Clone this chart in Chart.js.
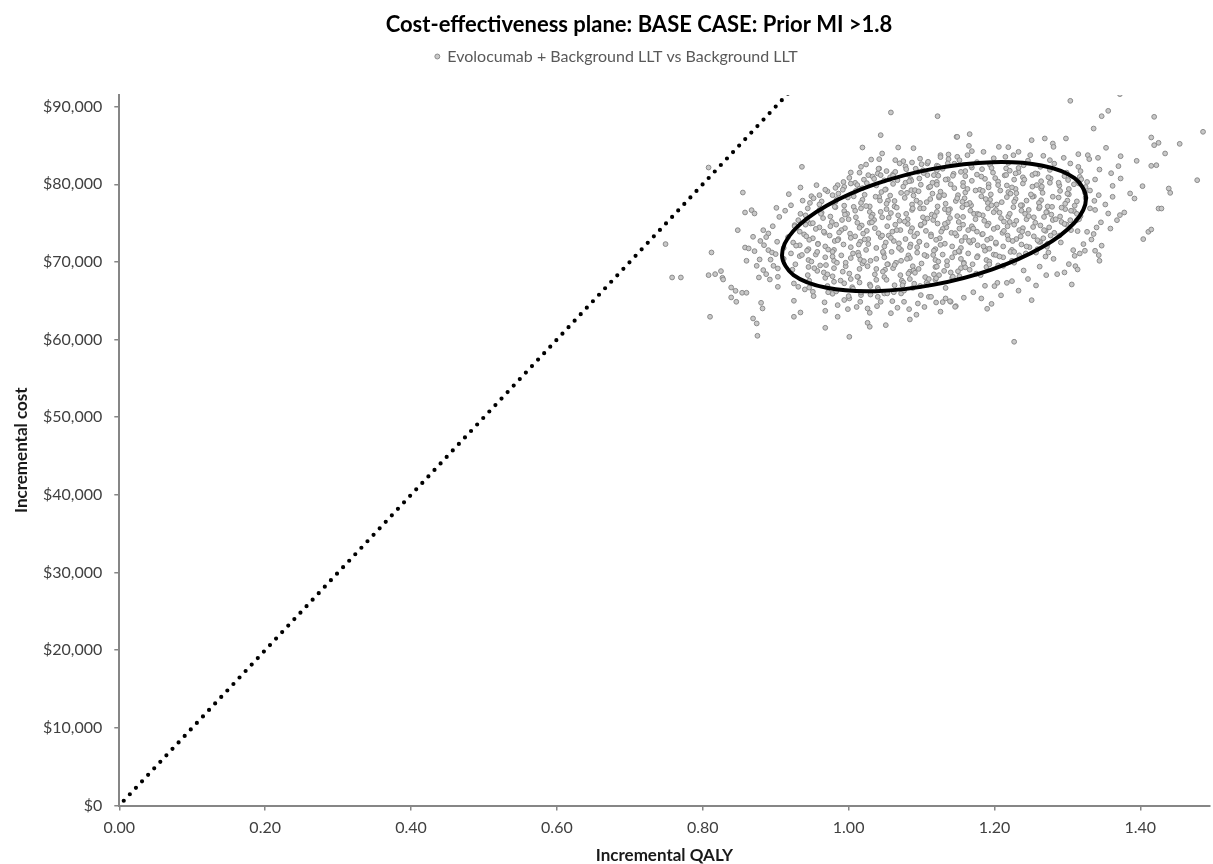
<!DOCTYPE html>
<html><head><meta charset="utf-8">
<script src="https://cdn.jsdelivr.net/npm/chart.js@4.4.1/dist/chart.umd.min.js"></script>
<style>html,body{margin:0;padding:0;background:#fff;overflow:hidden}</style>
</head><body>
<canvas id="c" width="1213" height="864"></canvas>
<script>
const chartTitle = 'Cost-effectiveness plane: BASE CASE: Prior MI >1.8';
const seriesName = 'Evolocumab + Background LLT vs Background LLT';
const xAxisTitle = 'Incremental QALY';
const yAxisTitle = 'Incremental cost';
const xTickValues = [0, 0.2, 0.4, 0.6, 0.8, 1.0, 1.2, 1.4];
const yTickValues = [0, 10000, 20000, 30000, 40000, 50000, 60000, 70000, 80000, 90000];

// willingness-to-pay line ($100,000 per QALY)
const wtpLine = [[0, 0], [0.92, 92000]];

// confidence ellipse outline
const ellipseOutline = [
  [1.3256,78216],[1.3098,80791],[1.2645,82426],[1.1970,82851],[1.1172,82014],[1.0373,80044],
  [0.9698,77237],[0.9245,74018],[0.9087,70877],[0.9245,68302],[0.9698,66667],[1.0373,66242],
  [1.1172,67079],[1.1970,69049],[1.2645,71856],[1.3098,75074]
];

// PSA iterations: outlying points
const psaOuter = [
  [1.058,89250],[1.122,88770],[1.044,86330],[1.148,86110],[1.019,84740],[1.068,84740],[1.089,84650],[1.046,83970],[0.808,82160],[0.936,82250],
  [1.031,83190],[1.042,83240],[1.064,83110],[1.075,82980],[1.087,82810],[1.100,82590],[1.108,82680],[1.126,83750],[1.137,83840],[1.137,83240],
  [1.017,82250],[1.024,82550],[1.042,82030],[1.003,81520],[1.027,81180],[1.040,81390],[1.044,81180],[1.056,80660],[1.067,80530],[1.085,80660],
  [1.095,81610],[1.108,81180],[1.117,81180],[1.001,80830],[1.009,80190],[0.985,79890],[0.994,79670],[0.982,79540],[0.956,79890],[0.949,78470],
  [0.960,78600],[0.934,79590],[0.918,78730],[0.855,78940],[0.901,76970],[0.858,76370],[0.867,76670],[0.871,76240],[0.848,74090],[0.883,74090],
  [0.890,73670],[0.869,73240],[0.926,74740],[0.931,75380],
  [1.304,90750],[1.372,91610],[1.356,89460],[1.347,88770],[1.419,88690],[1.336,87180],[1.486,86760],[1.149,86110],[1.166,86460],[1.251,85680],
  [1.269,85900],[1.280,85250],[1.281,84820],[1.298,85900],[1.415,86030],[1.419,85040],[1.425,85340],[1.454,85210],[1.434,83970],[1.353,84700],
  [1.165,84950],[1.169,84270],[1.206,84820],[1.219,84780],[1.185,84180],[1.163,83750],[1.149,83540],[1.215,83540],[1.226,83750],[1.233,84180],
  [1.249,83750],[1.267,83670],[1.276,83110],[1.295,83410],[1.304,82680],[1.315,83880],[1.315,82250],[1.328,83750],[1.330,83240],[1.342,83410],
  [1.373,83620],[1.370,82340],[1.395,83020],[1.415,82380],[1.422,82460],[1.360,81430],[1.373,80750],[1.338,80620],[1.317,80960],[1.403,79760],
  [1.439,79460],[1.441,78900],[1.478,80530],[1.386,78820],[1.392,78170],[1.362,78390],[1.337,77870],[1.343,78600],[1.425,76880],[1.429,76880],
  [1.356,76240],[1.368,75380],[1.372,76030],[1.378,76370],[1.327,73880],[1.340,74440],[1.333,72890],[1.404,72940],[1.411,73880],[1.415,74180],
  [1.314,73970],[1.313,75380],[1.304,75380],
  [1.308,71520],[1.310,70790],[1.317,71090],[1.324,71440],[1.338,71440],[1.343,70880],[1.344,70150],[1.302,69720],[1.311,69460],[1.314,69030],
  [1.296,68650],[1.286,68430],[1.271,68300],[1.306,67100],[1.257,66970],[1.251,65080],[1.224,67530],[1.217,67310],[1.204,67310],[1.200,66890],
  [1.187,66930],[1.190,63970],[1.227,59720],[1.147,64310],[1.140,64870],[1.274,71220],[1.291,72510],[1.263,72590],[1.272,71950],
  [0.812,71220],[0.858,71860],[0.863,71740],[0.871,71390],[0.884,72160],[0.890,71520],[0.895,71220],[0.900,71010],[0.860,70150],[0.874,69500],
  [0.878,70320],[0.808,68300],[0.817,68430],[0.825,68820],[0.827,67960],[0.828,67740],[0.883,68950],[0.887,68430],[0.892,67740],[0.877,68000],
  [0.903,69160],[0.903,68090],[0.903,66800],[0.839,66710],[0.845,66280],[0.839,65430],[0.846,64870],[0.854,66030],[0.860,66030],[0.880,64740],
  [0.882,64010],[0.810,62940],[0.869,62720],[0.874,62080],[0.875,60490],[0.925,65000],[0.925,62940],[0.934,63490],[0.940,66460],[0.951,66160],
  [0.968,63710],[0.968,61520],[0.985,64440],[0.985,62940],[0.999,63920],[1.001,60360],[1.001,65300],[1.016,64870],[1.026,64010],[1.029,63450],
  [1.026,62160],[1.029,61650],[1.039,64310],[1.051,61860],[1.040,65510],[1.044,64870],[1.060,64950],[1.076,64870],[1.083,63920],[1.084,62590],
  [1.095,64650],[1.110,65510],[1.120,64780],[1.129,64830],[1.133,65300],[1.139,64950],[1.146,64220],[1.099,65730],[1.113,65510],[1.017,65730],
  [1.049,65940],[1.072,65940],[0.925,67230],[0.931,66800],
  [0.749,72300],[0.758,68000],[0.770,68000]
];

// PSA iterations: band just around the ellipse
const psaBand = [
  [0.921,77300],[0.937,77900],[0.944,76900],[0.952,78200],[0.963,77800],[0.971,79100],[0.978,78600],[0.992,79300],[1.003,80100],[1.012,79900],
  [1.021,80600],[1.033,81000],[1.052,81700],[1.061,81300],[1.078,82300],[1.092,82000],[1.109,82900],[1.121,82400],[1.136,82700],
  [1.331,79200],[1.338,76700],[1.346,75100],[1.327,80300],[1.352,77400],[1.336,73600],[1.359,74300],[1.322,72300],[1.347,72100],[1.362,79800],
  [1.318,81700],[1.344,81900],
  [0.952,65600],[0.967,64800],[0.978,65900],[0.994,65100],[1.011,64200],[1.058,63400],[1.067,64100],[1.093,63200],[1.104,64200],[1.126,63600],
  [1.158,65400],[1.171,66100],[1.182,65300],[1.196,64600],[1.209,65700],[1.233,66300],[1.246,67800],[1.262,69400],[1.281,70400],[1.240,68900],
  [0.887,73200],[0.896,74600],[0.902,72600],[0.893,70300],[0.905,75800],[0.913,76600],[0.897,69500],[0.879,72700]
];

// PSA iterations: dense central cloud
const psaInner = [
  [1.152,83100],[1.176,82850],[1.199,83350],[1.219,82750],[1.246,83050],
  [1.123,82300],[1.145,82650],[1.169,82150],[1.194,82500],[1.216,82050],[1.240,82450],[1.263,82250],[1.282,82650],
  [1.064,81600],[1.079,81950],[1.103,81450],[1.121,81800],[1.144,81350],[1.160,81700],[1.183,81950],[1.198,81500],[1.221,81750],[1.233,81550],[1.259,81350],[1.276,81850],[1.299,81500],
  [1.057,80900],[1.082,81250],[1.097,80750],[1.123,81100],[1.136,80650],[1.160,81050],[1.176,81250],[1.201,80800],[1.214,81150],[1.239,80900],[1.252,81200],[1.277,80750],[1.296,81050],[1.319,80650],
  [1.025,80150],[1.049,80500],[1.061,80050],[1.086,80450],[1.099,79950],[1.121,80300],[1.133,80600],[1.157,80200],[1.169,80450],[1.192,80000],[1.205,80350],[1.227,80600],[1.239,80100],[1.264,80400],[1.276,80200],[1.301,80550],[1.316,80100],
  [1.015,79450],[1.038,79850],[1.051,79350],[1.075,79700],[1.086,79250],[1.110,79600],[1.121,79950],[1.145,79500],[1.157,79750],[1.180,79300],[1.192,79600],[1.217,79850],[1.229,79400],[1.252,79700],[1.264,79450],[1.289,79850],[1.302,79400],[1.325,79650],
  [0.986,78800],[1.010,79150],[1.022,78650],[1.045,79000],[1.057,78550],[1.080,78900],[1.091,79250],[1.115,78800],[1.126,79050],[1.150,78600],[1.160,78950],[1.184,79150],[1.195,78700],[1.219,79000],[1.230,78850],[1.254,78450],[1.266,78900],[1.290,79150],[1.302,78700],[1.324,78950],
  [0.984,78100],[1.007,78450],[1.019,78000],[1.042,78350],[1.054,77900],[1.077,78250],[1.089,78550],[1.112,78100],[1.124,78300],[1.147,77850],[1.159,78200],[1.182,78450],[1.194,78000],[1.217,78350],[1.229,78100],[1.252,78400],[1.264,77950],[1.288,78300],[1.300,77900],[1.325,78250],
  [0.960,77400],[0.982,77750],[0.994,77250],[1.017,77600],[1.029,77150],[1.052,77500],[1.063,77850],[1.087,77400],[1.098,77600],[1.122,77150],[1.133,77500],[1.156,77750],[1.168,77300],[1.191,77600],[1.203,77400],[1.227,77750],[1.238,77300],[1.261,77600],[1.273,77150],[1.297,77500],[1.310,77250],
  [0.960,76700],[0.982,77050],[0.994,76550],[1.017,76900],[1.029,76450],[1.052,76800],[1.063,77150],[1.087,76700],[1.098,76900],[1.121,76450],[1.132,76800],[1.156,77050],[1.167,76600],[1.191,76900],[1.202,76700],[1.226,77050],[1.237,76600],[1.261,76900],[1.272,76450],[1.297,76800],[1.309,76550],[1.331,76900],
  [0.941,76000],[0.963,76350],[0.975,75850],[0.998,76200],[1.010,75750],[1.033,76100],[1.044,76450],[1.068,76000],[1.079,76200],[1.102,75750],[1.114,76100],[1.137,76350],[1.149,75900],[1.172,76200],[1.184,76000],[1.207,76350],[1.219,75850],[1.242,76200],[1.254,75750],[1.278,76100],[1.290,75850],[1.313,76200],
  [0.943,75300],[0.965,75650],[0.977,75150],[1.000,75500],[1.012,75050],[1.035,75400],[1.046,75750],[1.070,75300],[1.081,75500],[1.104,75050],[1.116,75400],[1.139,75650],[1.151,75150],[1.174,75500],[1.186,75300],[1.209,75650],[1.221,75150],[1.244,75500],[1.256,75050],[1.280,75400],[1.292,75150],[1.316,75500],
  [0.926,74600],[0.948,74950],[0.960,74450],[0.983,74800],[0.995,74350],[1.018,74700],[1.029,75050],[1.053,74600],[1.064,74800],[1.087,74350],[1.099,74700],[1.122,74950],[1.134,74450],[1.157,74800],[1.169,74600],[1.192,74950],[1.204,74450],[1.227,74800],[1.239,74350],[1.263,74700],[1.275,74450],[1.299,74800],
  [0.933,73900],[0.955,74250],[0.967,73750],[0.990,74100],[1.002,73650],[1.025,74000],[1.036,74350],[1.060,73900],[1.071,74100],[1.094,73650],[1.106,74000],[1.129,74250],[1.141,73750],[1.164,74100],[1.176,73900],[1.199,74250],[1.211,73750],[1.234,74100],[1.246,73650],[1.270,74000],[1.282,73750],[1.305,74100],
  [0.917,73200],[0.939,73550],[0.951,73050],[0.974,73400],[0.986,72950],[1.009,73300],[1.020,73650],[1.044,73200],[1.055,73400],[1.078,72950],[1.090,73300],[1.113,73550],[1.125,73050],[1.148,73400],[1.160,73200],[1.183,73550],[1.195,73050],[1.218,73400],[1.230,72950],[1.254,73300],[1.267,73050],[1.289,73400],
  [0.924,72500],[0.946,72850],[0.958,72350],[0.981,72700],[0.993,72250],[1.016,72600],[1.027,72950],[1.051,72500],[1.062,72700],[1.085,72250],[1.097,72600],[1.120,72850],[1.132,72350],[1.155,72700],[1.167,72500],[1.190,72850],[1.202,72350],[1.225,72700],[1.237,72250],[1.261,72600],[1.273,72350],
  [0.911,71800],[0.933,72150],[0.945,71650],[0.968,72000],[0.980,71550],[1.003,71900],[1.014,72250],[1.038,71800],[1.049,72000],[1.072,71550],[1.084,71900],[1.107,72150],[1.119,71650],[1.142,72000],[1.154,71800],[1.177,72150],[1.189,71650],[1.212,72000],[1.224,71550],[1.248,71900],[1.259,71650],
  [0.921,71100],[0.943,71450],[0.955,70950],[0.978,71300],[0.990,70850],[1.013,71200],[1.024,71550],[1.048,71100],[1.059,71300],[1.082,70850],[1.094,71200],[1.117,71450],[1.129,70950],[1.152,71300],[1.164,71100],[1.187,71450],[1.199,70950],[1.222,71300],[1.234,70850],[1.257,71200],
  [0.911,70400],[0.933,70750],[0.945,70250],[0.968,70600],[0.980,70150],[1.003,70500],[1.014,70850],[1.038,70400],[1.049,70600],[1.072,70150],[1.084,70500],[1.107,70750],[1.119,70250],[1.142,70600],[1.154,70400],[1.177,70750],[1.189,70250],[1.212,70600],[1.224,70150],
  [0.927,69700],[0.949,70050],[0.961,69550],[0.984,69900],[0.996,69450],[1.019,69800],[1.030,70150],[1.054,69700],[1.065,69900],[1.088,69450],[1.100,69800],[1.123,70050],[1.135,69550],[1.158,69900],[1.170,69700],[1.193,70050],[1.205,69550],[1.227,69900],
  [0.923,69000],[0.945,69350],[0.957,68850],[0.980,69200],[0.992,68750],[1.015,69100],[1.026,69450],[1.050,69000],[1.061,69200],[1.084,68750],[1.096,69100],[1.119,69350],[1.131,68850],[1.154,69200],[1.166,69000],[1.189,69350],
  [0.944,68300],[0.966,68650],[0.978,68150],[1.001,68500],[1.013,68050],[1.036,68400],[1.047,68750],[1.071,68300],[1.082,68500],[1.105,68050],[1.117,68400],[1.140,68650],[1.152,68150],[1.175,68500],
  [0.946,67600],[0.968,67950],[0.980,67450],[1.003,67800],[1.015,67350],[1.038,67700],[1.049,68050],[1.073,67600],[1.084,67800],[1.107,67350],[1.119,67700],[1.142,67950],
  [0.971,66900],[0.994,67250],[1.005,66750],[1.029,67100],[1.040,66650],[1.063,67000],[1.075,67350],[1.098,66900],[1.109,67100],[1.133,66650],
  [0.983,66200],[1.006,66550],[1.017,66050],[1.041,66400],[1.053,65950],[1.076,66300],[1.088,66650],
  [1.007,77100],[1.031,75800],[1.046,73400],[1.058,76300],[1.069,71800],[1.081,74900],[1.093,77900],[1.097,72600],[1.108,75600],[1.116,70900],
  [1.127,73900],[1.131,78600],[1.139,76800],[1.146,71200],[1.152,74300],[1.163,79400],[1.171,72800],[1.177,76200],[1.184,73600],[1.196,77300],
  [1.202,70900],[1.213,75200],[1.222,78800],[1.236,73300],[1.247,76700],[1.258,79900],[1.016,70300],[1.022,72900],[1.037,78400],[1.053,69700],
  [1.066,74100],[1.078,80200],[1.089,68900],[1.103,76900],[1.112,79700],[1.124,68300],[1.136,75100],[1.143,81100],[1.158,69800],[1.166,77600],
  [1.187,80700],[1.193,71700],[1.208,79200],[1.218,74600],[1.229,81400],[1.244,77900],[1.268,75800],[1.279,77100],[0.972,71600],[0.987,73800],
  [0.995,76100],[0.958,72300],[0.941,74800],[0.969,69600]
];

// PSA iterations: further scattered points inside the ellipse
const psaFill = [
  [0.928,72100],[0.936,70900],[0.942,73300],[0.951,75000],[0.953,69200],[0.957,71300],[0.962,76200],[0.966,73900],[0.971,68400],[0.975,74600],
  [0.978,70700],[0.981,77100],[0.985,72800],[0.989,67600],[0.991,75400],[0.996,69900],[0.999,78300],[1.003,73100],[1.006,71100],[1.009,76600],
  [1.012,68100],[1.015,74400],[1.019,79500],[1.021,70100],[1.024,77200],[1.027,72300],[1.030,66900],[1.032,75100],[1.035,80700],[1.038,69100],
  [1.041,73700],[1.043,77900],[1.047,71300],[1.050,79300],[1.052,67700],[1.055,75700],[1.058,73100],[1.061,81100],[1.063,69600],[1.066,77000],
  [1.069,72400],[1.072,78900],[1.074,67000],[1.077,75200],[1.080,70400],[1.083,80400],[1.085,73900],[1.088,76900],[1.091,68600],[1.094,71900],
  [1.096,79100],[1.099,74800],[1.102,81800],[1.104,70900],[1.107,77700],[1.110,67800],[1.113,73300],[1.115,80200],[1.118,75900],[1.121,69400],
  [1.124,78500],[1.126,72200],[1.129,82000],[1.132,74900],[1.135,70100],[1.137,76700],[1.140,80000],[1.143,68100],[1.146,73700],[1.149,78200],
  [1.151,71400],[1.154,81600],[1.157,75800],[1.160,69300],[1.162,77400],[1.165,72700],[1.168,82400],[1.171,74300],[1.174,79200],[1.176,70600],
  [1.179,76100],[1.182,81000],[1.185,72000],[1.188,78100],[1.190,74700],[1.193,69700],[1.196,82100],[1.199,76400],[1.202,72500],[1.205,79900],
  [1.207,70700],[1.210,77700],[1.213,74000],[1.216,81200],[1.219,72900],[1.221,76200],[1.224,79600],[1.227,71300],[1.230,75300],[1.233,82100],
  [1.236,77300],[1.238,73900],[1.241,80600],[1.244,72000],[1.247,75900],[1.250,78700],[1.253,74500],[1.256,81400],[1.259,72800],[1.262,77100],
  [1.265,79700],[1.268,74100],[1.271,76400],[1.274,80900],[1.277,73400],[1.280,78400],[1.284,75500],[1.288,80200],[1.292,77000],[1.296,74900],
  [1.300,78800],[1.305,76600],[1.309,80000],[1.313,77800],[1.318,75900],
  [0.934,76200],[0.947,77600],[0.968,79300],[0.993,80300],[1.015,81500],[1.041,82000],[1.070,82700],[1.098,83300],[1.126,83500],
  [0.946,66700],[0.972,66100],[1.000,65600],[1.030,65800],[1.062,66100],[1.090,67200],[1.120,67900],[1.150,68800],[1.181,68300],[1.212,69500],
  [1.243,71100],[1.270,70700]
];

const toXY = a => a.map(p => ({x: p[0], y: p[1]}));
const psaData = toXY(psaOuter.concat(psaBand, psaInner, psaFill));
const n = ellipseOutline.length;
// wrap so the closed curve is smooth; first and last segments are hidden
const ellipseData = toXY([ellipseOutline[n - 1]].concat(ellipseOutline, [ellipseOutline[0], ellipseOutline[1]]));
const ellipseLen = ellipseData.length;

const FONT = 'Lato, "Open Sans", "DejaVu Sans", sans-serif';
const AXIS_GREY = '#868686';
const HEADER_SHIFT = 20.5;

const shiftPlugin = {
  id: 'shiftHeader',
  afterLayout(chart) {
    const t = chart.titleBlock, l = chart.legend;
    if (t) { t.top -= HEADER_SHIFT; t.bottom -= HEADER_SHIFT; t.left = 65; }
    if (l) { l.top -= HEADER_SHIFT; l.bottom -= HEADER_SHIFT; l.left += 10; l.right += 10; }
  }
};

function draw() {
  new Chart(document.getElementById('c'), {
    type: 'scatter',
    data: {
      datasets: [
        {
          label: 'Ellipse',
          data: ellipseData,
          showLine: true,
          tension: 0.34,
          borderColor: '#000',
          borderWidth: 4,
          borderCapStyle: 'round',
          borderJoinStyle: 'round',
          pointRadius: 0,
          fill: false,
          segment: {
            borderColor: ctx => (ctx.p0DataIndex === 0 || ctx.p0DataIndex === ellipseLen - 2) ? 'rgba(0,0,0,0)' : '#000'
          }
        },
        {
          label: 'WTP',
          data: toXY(wtpLine),
          showLine: true,
          borderColor: '#000',
          borderWidth: 4.2,
          borderDash: [0, 8.9],
          borderDashOffset: 2.4,
          borderCapStyle: 'round',
          pointRadius: 0,
          fill: false
        },
        {
          label: seriesName,
          data: psaData,
          pointRadius: 2.4,
          pointHoverRadius: 2.4,
          borderWidth: 1,
          pointBorderWidth: 1,
          borderColor: '#8a8a8a',
          backgroundColor: '#c8c8c8',
          pointBorderColor: '#8a8a8a',
          pointBackgroundColor: '#c8c8c8'
        }
      ]
    },
    options: {
      responsive: false,
      animation: false,
      events: [],
      devicePixelRatio: 1,
      layout: { padding: { top: HEADER_SHIFT, left: 0, right: 0, bottom: 0 } },
      plugins: {
        title: {
          display: true,
          text: chartTitle,
          color: '#000',
          font: { family: FONT, size: 22, weight: 'bold' },
          padding: { top: 12.1, bottom: 0 }
        },
        legend: {
          display: true,
          labels: {
            usePointStyle: true,
            boxWidth: 4,
            boxHeight: 3.5,
            padding: 10,
            color: '#595959',
            font: { family: FONT, size: 16 },
            filter: item => item.datasetIndex === 2
          }
        },
        tooltip: { enabled: false }
      },
      scales: {
        x: {
          type: 'linear',
          position: 'bottom',
          min: 0,
          max: 1.495,
          afterBuildTicks: s => { s.ticks = xTickValues.map(v => ({value: v})); },
          afterFit: s => { s.height = 58.5; },
          ticks: {
            stepSize: 0.2,
            includeBounds: false,
            maxRotation: 0,
            padding: 8,
            color: '#404040',
            font: { family: FONT, size: 16 },
            callback: v => Number(v).toFixed(2)
          },
          grid: { drawOnChartArea: false, drawTicks: true, tickLength: 5, color: AXIS_GREY, lineWidth: 1.5 },
          border: { display: true, color: AXIS_GREY, width: 2 },
          title: {
            display: true, text: xAxisTitle, color: '#1a1a1a',
            font: { family: FONT, size: 17, weight: 'bold', lineHeight: 1 },
            padding: { top: 0, bottom: 0 }
          }
        },
        y: {
          type: 'linear',
          position: 'left',
          min: 0,
          max: 91500,
          afterBuildTicks: s => { s.ticks = yTickValues.map(v => ({value: v})); },
          afterFit: s => { s.width = 119.3; },
          ticks: {
            stepSize: 10000,
            includeBounds: false,
            padding: 12,
            color: '#404040',
            font: { family: FONT, size: 16 },
            callback: v => '$' + Number(v).toLocaleString('en-US')
          },
          grid: { drawOnChartArea: false, drawTicks: true, tickLength: 5, color: AXIS_GREY, lineWidth: 1.5 },
          border: { display: true, color: AXIS_GREY, width: 2 },
          title: {
            display: true, text: yAxisTitle, color: '#1a1a1a',
            font: { family: FONT, size: 17, weight: 'bold', lineHeight: 1 },
            padding: { top: 13.5, bottom: 0 }
          }
        }
      }
    },
    plugins: [shiftPlugin]
  });
}

const fontLoads = ['bold 22px Lato', '16px Lato', 'bold 17px Lato'].map(f => document.fonts.load(f));
Promise.all(fontLoads).then(draw, draw);
</script>
</body></html>
